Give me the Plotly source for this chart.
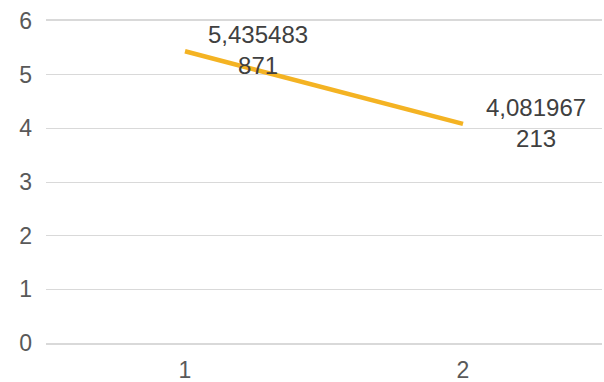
import plotly.graph_objects as go

categories = ["1", "2"]
values = [5.435483871, 4.081967213]
y_ticks = [0, 1, 2, 3, 4, 5, 6]


def fmt(v):
    s = f"{v:.9f}".replace(".", ",")
    return s[:8] + "<br>" + s[8:]


fig = go.Figure()
fig.add_trace(go.Scatter(
    x=[1, 2], y=values, mode="lines",
    line=dict(color="#F4B323", width=4.5),
    hoverinfo="skip", showlegend=False,
))

for i, v in enumerate(values):
    fig.add_annotation(
        x=i + 1, y=v, text=fmt(v), showarrow=False,
        xanchor="center", yanchor="middle", xshift=73, yshift=1,
        align="center",
        font=dict(family="Liberation Sans, Arial", size=24, color="#404040"),
    )

fig.update_layout(
    width=604, height=382,
    margin=dict(l=46, r=2, t=21, b=39),
    paper_bgcolor="white", plot_bgcolor="white",
    font=dict(family="Liberation Sans, Arial", size=23, color="#595959"),
    xaxis=dict(
        range=[0.5, 2.5], tickvals=[1, 2], ticktext=categories,
        showgrid=False, zeroline=False, automargin=False,
        showline=True, mirror=True, linecolor="#D9D9D9", linewidth=1.5,
        ticks="", ticklabelstandoff=6,
    ),
    yaxis=dict(
        range=[0, 6], tickvals=y_ticks, automargin=False,
        showgrid=True, gridcolor="#D9D9D9", gridwidth=1.3,
        zeroline=False, showline=False, ticks="",
        ticklabelstandoff=13,
    ),
)

fig.write_html("out.html")
